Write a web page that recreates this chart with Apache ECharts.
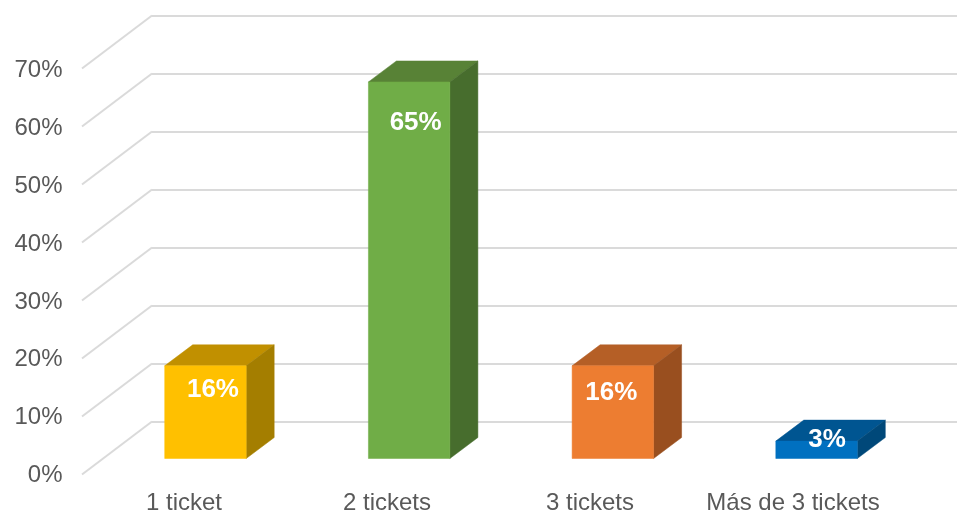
<!DOCTYPE html>
<html>
<head>
<meta charset="utf-8">
<style>
  html, body { margin: 0; padding: 0; background: #fff; }
  #chart { width: 957px; height: 515px; }
</style>
<script src="https://cdn.jsdelivr.net/npm/echarts@6/dist/echarts.min.js"></script>
</head>
<body>
<div id="chart"></div>
<script>
// Share of purchases by number of tickets
const categories = ['1 ticket', '2 tickets', '3 tickets', 'Más de 3 tickets'];
const shares = [16, 65, 16, 3];
const wallTicks = [0, 10, 20, 30, 40, 50, 60, 70];

// Face colours of each box: front, top, side
const frontColors = ['#FFC000', '#70AD47', '#ED7D31', '#0070C0'];
const topColors = ['#C19000', '#588236', '#B55F26', '#005591'];
const sideColors = ['#A47E00', '#476D2D', '#994F1F', '#004879'];

// Value label offset from the top centre of each front face
const labelDx = [7.5, 6.5, -1.5, 10.5];
const labelDy = [24, 41, 27, -1];

// Oblique projection used by the walls and the boxes
const WALL_DX = 70, WALL_DY = -53;
const BOX_DX = 28, BOX_DY = -21;
const BAR_RATIO = 0.4;

const AXIS_FONT = { fontFamily: '"Liberation Sans", Arial, sans-serif', fontSize: 24, color: '#595959' };
const GRID_COLOR = '#DADADA';

// Side wall line: runs from the back wall forward to the axis labels
function renderWall(params, api) {
  const rect = params.coordSys;
  const p = api.coord([0, api.value(1)]);
  return {
    type: 'line',
    shape: { x1: rect.x - WALL_DX, y1: p[1] - WALL_DY, x2: rect.x, y2: p[1] },
    style: { stroke: GRID_COLOR, lineWidth: 2 },
    silent: true
  };
}

function renderBox(params, api) {
  const i = params.dataIndex;
  const base = api.coord([i, 0]);
  const top = api.coord([i, api.value(1)]);
  const w = api.size([1, 0])[0] * BAR_RATIO;
  const l = base[0] - w / 2, r = base[0] + w / 2;
  const face = (points, fill) => ({
    type: 'polygon',
    shape: { points },
    style: { fill, stroke: fill, lineWidth: 0.5 }
  });
  return {
    type: 'group',
    children: [
      face([[l, top[1]], [r, top[1]], [r + BOX_DX, top[1] + BOX_DY], [l + BOX_DX, top[1] + BOX_DY]], topColors[i]),
      face([[r, top[1]], [r + BOX_DX, top[1] + BOX_DY], [r + BOX_DX, base[1] + BOX_DY], [r, base[1]]], sideColors[i]),
      face([[l, top[1]], [r, top[1]], [r, base[1]], [l, base[1]]], frontColors[i]),
      {
        type: 'text',
        x: base[0] + labelDx[i],
        y: top[1] + labelDy[i],
        z2: 10,
        style: {
          text: api.value(1) + '%',
          fill: '#FFFFFF',
          font: 'bold 26px "Liberation Sans", Arial, sans-serif',
          align: 'center',
          verticalAlign: 'middle'
        }
      }
    ]
  };
}

const valueAxis = { type: 'value', min: 0, max: 70, interval: 10 };
const hiddenCategory = { type: 'category', data: categories, show: false };

const chart = echarts.init(document.getElementById('chart'), null, { renderer: 'canvas' });
chart.setOption({
  animation: false,
  backgroundColor: '#FFFFFF',
  grid: [
    // Front plane: carries the axis labels
    { left: 82.5, top: 70.5, width: 812, height: 406 },
    // Back wall: carries the horizontal grid lines
    { left: 152, top: 15.5, width: 805, height: 406 },
    // Plane in which the front faces of the boxes sit
    { left: 103.6, top: 53, width: 814.8, height: 405.5 }
  ],
  xAxis: [
    {
      type: 'category', data: categories, gridIndex: 0,
      axisLine: { show: false }, axisTick: { show: false }, splitLine: { show: false },
      axisLabel: { ...AXIS_FONT, margin: 15.5, interval: 0 }
    },
    { ...hiddenCategory, gridIndex: 1 },
    { ...hiddenCategory, gridIndex: 2 }
  ],
  yAxis: [
    {
      ...valueAxis, gridIndex: 0,
      axisLine: { show: false }, axisTick: { show: false }, splitLine: { show: false },
      axisLabel: { ...AXIS_FONT, margin: 20, formatter: '{value}%' }
    },
    {
      ...valueAxis, gridIndex: 1,
      axisLine: { show: false }, axisTick: { show: false }, axisLabel: { show: false },
      splitLine: { show: true, lineStyle: { color: GRID_COLOR, width: 2 } }
    },
    { ...valueAxis, gridIndex: 2, show: false }
  ],
  series: [
    {
      type: 'custom', name: 'wall', xAxisIndex: 1, yAxisIndex: 1,
      data: wallTicks.map(v => [0, v]),
      encode: { x: 0, y: 1 },
      renderItem: renderWall, silent: true, z: 1
    },
    {
      type: 'custom', name: 'share', xAxisIndex: 2, yAxisIndex: 2,
      data: shares.map((v, i) => [i, v]),
      encode: { x: 0, y: 1 },
      renderItem: renderBox, silent: true, z: 3
    }
  ]
});
</script>
</body>
</html>
